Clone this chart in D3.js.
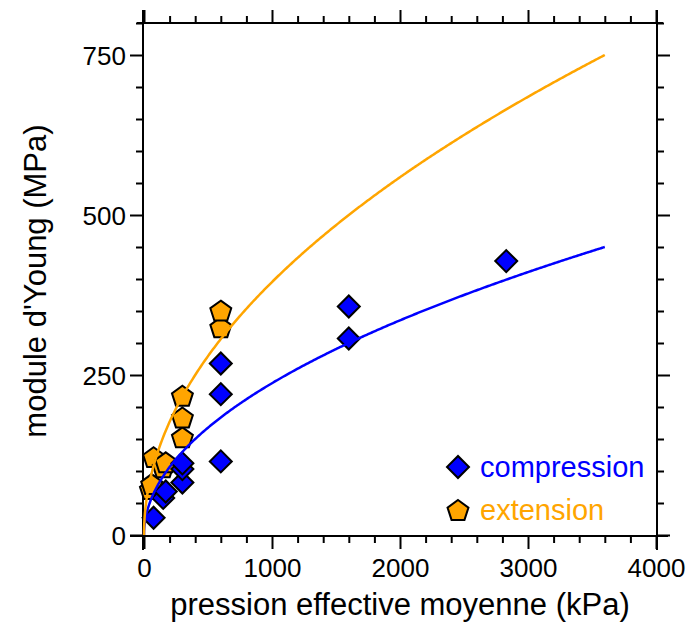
<!DOCTYPE html>
<html>
<head>
<meta charset="utf-8">
<script src="https://cdn.jsdelivr.net/npm/d3@7"></script>
<style>
  body { margin: 0; background: #fff; }
  text { font-family: "Liberation Sans", Arial, sans-serif; }
</style>
</head>
<body>
<div id="chart"></div>
<script>
// compression points (pressure kPa, Young modulus MPa)
var compP = [75, 150, 170, 300, 300, 300, 600, 600, 600, 1600, 1600, 2830];
var compE = [27, 58, 68, 82, 103, 112, 115, 220, 268, 307, 357, 428];
// extension points
var extP = [50, 60, 75, 150, 170, 300, 300, 300, 600, 600];
var extE = [70, 78, 120, 104, 112, 151, 182, 216, 323, 349];
// fitted power laws E = a * p^b
var fitA = [7.5, 12.5];
var fitB = 0.5;
var fitMax = 3600;
var seriesNames = ["compression", "extension"];
var seriesColors = ["#0000ff", "#ffa500"];
var xMajor = [0, 1000, 2000, 3000, 4000];
var yMajor = [0, 250, 500, 750];

function drawChart() {
  var svgWidth = 688, svgHeight = 626;

  var svg = d3.select("#chart")
    .append("svg")
    .attr("width", svgWidth)
    .attr("height", svgHeight);

  var x = d3.scaleLinear().domain([0, 4000]).range([144, 656]);
  var y = d3.scaleLinear().domain([0, 800]).range([535, 23]);

  var xMinor = d3.range(0, 4001, 200).filter(d => d % 1000 != 0);
  var yMinor = d3.range(0, 801, 50).filter(d => d % 250 != 0);

  // axes: major + minor ticks, all outward
  function axisPair(axisFn, scale, major, minor, pos, labels) {
    var g1 = svg.append("g").attr("transform", pos)
      .call(axisFn(scale).tickValues(major).tickSize(13).tickSizeOuter(0)
        .tickFormat(labels ? d3.format("d") : ""));
    var g2 = svg.append("g").attr("transform", pos)
      .call(axisFn(scale).tickValues(minor).tickSize(7).tickSizeOuter(0).tickFormat(""));
    [g1, g2].forEach(function(g) {
      g.select(".domain").remove();
      g.selectAll("line").attr("stroke", "#000").attr("stroke-width", 2);
    });
    return g1;
  }

  var gl = axisPair(d3.axisLeft, y, yMajor, yMinor, "translate(143,0)", true);
  gl.selectAll("text").attr("font-size", 26).attr("fill", "#000").attr("x", -17).attr("dy", "0.36em");
  axisPair(d3.axisRight, y, yMajor, yMinor, "translate(657,0)", false);
  var gb = axisPair(d3.axisBottom, x, xMajor, xMinor, "translate(0,536)", true);
  gb.selectAll("text").attr("font-size", 26).attr("fill", "#000").attr("y", 32).attr("dy", "0.36em");
  axisPair(d3.axisTop, x, xMajor, xMinor, "translate(0,23)", false);

  // frame lines, extended past the corners
  var frame = [
    [143, 10, 143, 550],
    [657, 10, 657, 550],
    [137, 23, 663, 23],
    [130, 536, 668, 536]
  ];
  svg.append("g").selectAll("line").data(frame).enter().append("line")
    .attr("x1", d => d[0]).attr("y1", d => d[1])
    .attr("x2", d => d[2]).attr("y2", d => d[3])
    .attr("stroke", "#000").attr("stroke-width", 2);

  // markers
  var diamond = d3.symbol().type(d3.symbolSquare).size(242);
  function pentagon(r) {
    var p = d3.path();
    for (var i = 0; i < 5; i++) {
      var a = -Math.PI / 2 + i * 2 * Math.PI / 5;
      if (i == 0) p.moveTo(r * Math.cos(a), r * Math.sin(a));
      else p.lineTo(r * Math.cos(a), r * Math.sin(a));
    }
    p.closePath();
    return p.toString();
  }

  svg.append("g").selectAll("path")
    .data(extP.map((p, i) => [p, extE[i]]))
    .enter().append("path")
    .attr("d", pentagon(11))
    .attr("transform", d => `translate(${x(d[0])},${y(d[1])})`)
    .attr("fill", seriesColors[1]).attr("stroke", "#000").attr("stroke-width", 2);

  svg.append("g").selectAll("path")
    .data(compP.map((p, i) => [p, compE[i]]))
    .enter().append("path")
    .attr("d", diamond)
    .attr("transform", d => `translate(${x(d[0])},${y(d[1])}) rotate(45)`)
    .attr("fill", seriesColors[0]).attr("stroke", "#000").attr("stroke-width", 2);

  // fit curves
  var line = d3.line().x(d => x(d[0])).y(d => y(d[1]));
  var ps = d3.range(0, 20, 0.5).concat(d3.range(20, fitMax + 1, 10));
  fitA.forEach(function(a, k) {
    svg.append("path")
      .attr("d", line(ps.map(p => [p, a * Math.pow(p, fitB)])))
      .attr("fill", "none")
      .attr("stroke", seriesColors[k])
      .attr("stroke-width", 2.5);
  });

  // legend
  var legend = svg.append("g");
  legend.append("path").attr("d", diamond)
    .attr("transform", "translate(458,467) rotate(45)")
    .attr("fill", seriesColors[0]).attr("stroke", "#000").attr("stroke-width", 2);
  legend.append("path").attr("d", pentagon(11))
    .attr("transform", "translate(458,511)")
    .attr("fill", seriesColors[1]).attr("stroke", "#000").attr("stroke-width", 2);
  seriesNames.forEach(function(n, i) {
    legend.append("text")
      .attr("x", 480).attr("y", 477 + i * 43)
      .attr("font-size", 29)
      .attr("fill", seriesColors[i])
      .text(n);
  });

  // axis titles
  svg.append("text")
    .attr("x", 400).attr("y", 615)
    .attr("text-anchor", "middle")
    .attr("font-size", 31)
    .text("pression effective moyenne (kPa)");

  svg.append("text")
    .attr("transform", "translate(46,281) rotate(-90)")
    .attr("text-anchor", "middle")
    .attr("font-size", 31)
    .text("module d'Young (MPa)");
}

document.addEventListener('DOMContentLoaded', function() {
  drawChart();
});
</script>
</body>
</html>
